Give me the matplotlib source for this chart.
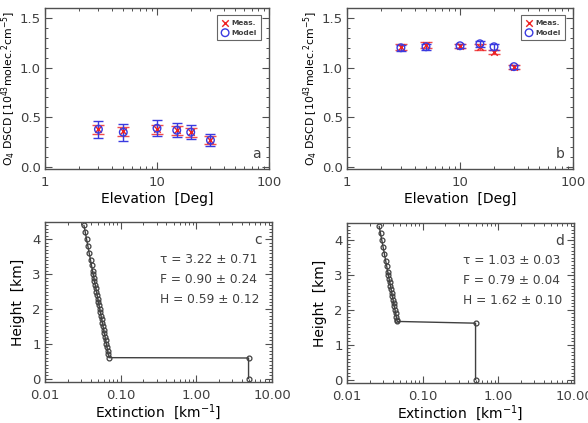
import matplotlib
matplotlib.use("Agg")
import matplotlib.pyplot as plt
from matplotlib.ticker import MultipleLocator, FixedLocator, LogLocator, NullFormatter, FixedFormatter

# ---------------- data ----------------
elev = [3, 5, 10, 15, 20, 30]

meas_a = [0.38, 0.36, 0.38, 0.37, 0.35, 0.27]
meas_a_err = [0.045, 0.045, 0.045, 0.045, 0.045, 0.04]
model_a = [0.38, 0.35, 0.39, 0.37, 0.35, 0.27]
model_a_err = [0.085, 0.085, 0.08, 0.07, 0.07, 0.06]

meas_b = [1.21, 1.23, 1.22, 1.21, 1.16, 1.01]
meas_b_err = [0.03, 0.03, 0.02, 0.03, 0.02, 0.02]
model_b = [1.20, 1.21, 1.22, 1.24, 1.21, 1.01]
model_b_err = [0.03, 0.03, 0.02, 0.03, 0.03, 0.02]

height_c = [0.0, 0.59, 0.6, 0.7, 0.8, 0.9, 1.0, 1.1, 1.2, 1.3, 1.4, 1.5, 1.6, 1.7,
            1.8, 1.9, 2.0, 2.1, 2.2, 2.3, 2.4, 2.5, 2.6, 2.7, 2.8, 2.9, 3.0, 3.1,
            3.25, 3.4, 3.6, 3.8, 4.0, 4.2, 4.4]
ext_c = [4.9, 4.9, 0.0700, 0.06861, 0.06725, 0.06591, 0.06461, 0.06333, 0.06207,
         0.06084, 0.05964, 0.05846, 0.05731, 0.05617, 0.05506, 0.05397, 0.05290,
         0.05185, 0.05083, 0.04982, 0.04883, 0.04787, 0.04692, 0.04599, 0.04508,
         0.04419, 0.04331, 0.04245, 0.04120, 0.03998, 0.03842, 0.03691, 0.03547,
         0.03408, 0.03275]

height_d = [0.0, 1.62, 1.67, 1.7, 1.8, 1.9, 2.0, 2.1, 2.2, 2.3, 2.4, 2.5, 2.6, 2.7,
            2.8, 2.9, 3.0, 3.1, 3.25, 3.4, 3.6, 3.8, 4.0, 4.2, 4.4]
ext_d = [0.50, 0.50, 0.04600, 0.04572, 0.04482, 0.04393, 0.04306, 0.04221, 0.04137,
         0.04055, 0.03975, 0.03896, 0.03819, 0.03744, 0.03670, 0.03597, 0.03526,
         0.03456, 0.03354, 0.03255, 0.03127, 0.03004, 0.02887, 0.02773, 0.02665]

params_c = ["\u03c4 = 3.22 \u00b1 0.71", "F = 0.90 \u00b1 0.24", "H = 0.59 \u00b1 0.12"]
params_d = ["\u03c4 = 1.03 \u00b1 0.03", "F = 0.79 \u00b1 0.04", "H = 1.62 \u00b1 0.10"]

elev_ticks = [1, 10, 100]
elev_ticklabels = ["1", "10", "100"]
ext_ticks = [0.01, 0.1, 1, 10]
ext_ticklabels = ["0.01", "0.10", "1.00", "10.00"]

# ---------------- style ----------------
TXT = "#404040"
AX = "#505050"
RED = "#ee2222"
BLUE = "#3a3ae0"
plt.rcParams.update({
    "font.family": "DejaVu Sans",
    "font.size": 10,
    "text.color": TXT,
    "axes.edgecolor": AX,
    "axes.linewidth": 1.0,
    "xtick.color": AX,
    "ytick.color": AX,
    "xtick.labelcolor": TXT,
    "ytick.labelcolor": TXT,
    "xtick.direction": "in",
    "ytick.direction": "in",
})

W, H = 588, 423
fig = plt.figure(figsize=(W / 100, H / 100), dpi=100)


def pos(l, r, t, b):
    return [l / W, 1 - b / H, (r - l) / W, (b - t) / H]


ax_a = fig.add_axes(pos(45, 269, 8, 169))
ax_b = fig.add_axes(pos(347, 573, 8, 169))
ax_c = fig.add_axes(pos(45, 272, 222, 382))
ax_d = fig.add_axes(pos(347, 574, 223, 383))


def style_ticks(ax):
    ax.tick_params(which="both", top=True, right=True, labelsize=9.5)
    ax.tick_params(axis="x", which="both", pad=5)
    ax.tick_params(axis="y", which="both", pad=3)
    ax.tick_params(which="major", length=5, width=0.8)
    ax.tick_params(which="minor", length=2.5, width=0.7)


def dscd_panel(ax, meas, meas_err, model, model_err, letter):
    ax.set_xscale("log")
    ax.errorbar(elev, meas, yerr=meas_err, fmt="none", ecolor=RED, elinewidth=1.0,
                capsize=4, capthick=1.0, alpha=0.8, zorder=2)
    ax.errorbar(elev, model, yerr=model_err, fmt="none", ecolor=BLUE, elinewidth=1.0,
                capsize=3.5, capthick=1.0, zorder=3)
    h1 = ax.scatter(elev, meas, marker="x", s=22, color=RED, linewidths=1.0, zorder=4,
                    label="Meas.")
    h2 = ax.scatter(elev, model, marker="o", s=30, facecolors="none", edgecolors=BLUE,
                    linewidths=1.0, zorder=5, label="Model")
    ax.set_xlim(1, 100)
    ax.set_ylim(-0.02, 1.6)
    ax.xaxis.set_major_locator(FixedLocator(elev_ticks))
    ax.xaxis.set_major_formatter(FixedFormatter(elev_ticklabels))
    ax.xaxis.set_minor_locator(LogLocator(base=10, subs=range(2, 10)))
    ax.xaxis.set_minor_formatter(NullFormatter())
    ax.yaxis.set_major_locator(MultipleLocator(0.5))
    ax.yaxis.set_minor_locator(MultipleLocator(0.1))
    ax.yaxis.set_major_formatter(plt.FormatStrFormatter("%.1f"))
    style_ticks(ax)
    ax.set_xlabel("Elevation  [Deg]", fontsize=10, labelpad=2)
    ax.set_ylabel("O$_4$ DSCD [10$^{43}$molec.$^2$cm$^{-5}$]", fontsize=7.8)
    ax.yaxis.set_label_coords(-27 / 224, 0.5)
    ax.text(0.965, 0.05, letter, transform=ax.transAxes, ha="right", va="bottom",
            fontsize=10)
    leg = ax.legend(handles=[h1, h2], loc="upper right", bbox_to_anchor=(0.965, 0.955),
                    frameon=True, fancybox=False, edgecolor="#404040",
                    handletextpad=0.35, borderpad=0.6, labelspacing=0.5,
                    handlelength=1.0, borderaxespad=0.0,
                    prop={"weight": "bold", "size": 5.3})
    leg.get_frame().set_linewidth(0.8)


def profile_panel(ax, ext, height, params, letter, text_x):
    ax.set_xscale("log")
    ax.plot(ext, height, color="#404040", lw=1.0, marker="o", markersize=3.5,
            markerfacecolor="none", markeredgecolor="#404040", markeredgewidth=0.9)
    ax.set_xlim(0.01, 10)
    ax.set_ylim(-0.1, 4.5)
    ax.xaxis.set_major_locator(FixedLocator(ext_ticks))
    ax.xaxis.set_major_formatter(FixedFormatter(ext_ticklabels))
    ax.xaxis.set_minor_locator(LogLocator(base=10, subs=range(2, 10)))
    ax.xaxis.set_minor_formatter(NullFormatter())
    ax.yaxis.set_major_locator(MultipleLocator(1))
    ax.yaxis.set_minor_locator(MultipleLocator(0.1))
    style_ticks(ax)
    ax.set_xlabel("Extinction  [km$^{-1}$]", fontsize=10, labelpad=0)
    ax.set_ylabel("Height  [km]", fontsize=10, labelpad=5)
    ax.text(0.955, 0.93, letter, transform=ax.transAxes, ha="right", va="top",
            fontsize=10)
    for i, s in enumerate(params):
        ax.text(text_x, 0.765 - i * 0.125, s, transform=ax.transAxes, ha="left",
                va="center", fontsize=8.8)


dscd_panel(ax_a, meas_a, meas_a_err, model_a, model_a_err, "a")
dscd_panel(ax_b, meas_b, meas_b_err, model_b, model_b_err, "b")
profile_panel(ax_c, ext_c, height_c, params_c, "c", 0.505)
profile_panel(ax_d, ext_d, height_d, params_d, "d", 0.51)

fig.savefig("out.png", dpi=100)
